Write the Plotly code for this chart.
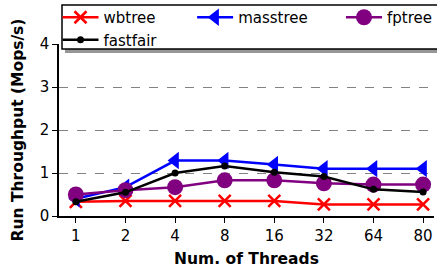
import plotly.graph_objects as go

threads = ["1", "2", "4", "8", "16", "32", "64", "80"]
wbtree = [0.33, 0.35, 0.35, 0.35, 0.35, 0.27, 0.27, 0.27]
masstree = [0.40, 0.67, 1.29, 1.29, 1.20, 1.10, 1.10, 1.10]
fptree = [0.50, 0.60, 0.67, 0.83, 0.83, 0.76, 0.73, 0.73]
fastfair = [0.33, 0.55, 1.00, 1.16, 1.02, 0.92, 0.62, 0.56]
yticks = [0, 1, 2, 3, 4]

fig = go.Figure()
fig.add_trace(go.Scatter(x=threads, y=wbtree, name="wbtree", mode="lines+markers", legend="legend",
                         line=dict(color="red", width=2.5),
                         marker=dict(symbol="x-thin", size=12, line=dict(color="red", width=2.5), color="red")))
fig.add_trace(go.Scatter(x=threads, y=masstree, name="masstree", mode="lines+markers", legend="legend2",
                         line=dict(color="blue", width=2.5),
                         marker=dict(symbol="triangle-left", size=15, color="blue")))
fig.add_trace(go.Scatter(x=threads, y=fptree, name="fptree", mode="lines+markers", legend="legend3",
                         line=dict(color="purple", width=2.5),
                         marker=dict(symbol="circle", size=16, color="purple")))
fig.add_trace(go.Scatter(x=threads, y=fastfair, name="fastfair", mode="lines+markers", legend="legend",
                         line=dict(color="black", width=2.5),
                         marker=dict(symbol="circle", size=7, color="black")))

# legend frame with shadow
fig.add_shape(type="rect", xref="paper", yref="paper", x0=0.016, x1=1.1, y0=0.948, y1=1.209,
              fillcolor="rgb(150,150,150)", line=dict(width=0), layer="above")
fig.add_shape(type="rect", xref="paper", yref="paper", x0=0.008, x1=1.1, y0=0.971, y1=1.227,
              fillcolor="white", line=dict(width=1.5, color="black"), layer="above")

leg = dict(orientation="v", yanchor="top", xanchor="left", bgcolor="rgba(0,0,0,0)",
           borderwidth=0, font=dict(size=15), tracegroupgap=0, itemwidth=36)

fig.update_layout(
    width=437, height=269,
    margin=dict(l=59, r=0, t=44, b=53),
    plot_bgcolor="white", paper_bgcolor="white",
    font=dict(family="DejaVu Sans", size=15, color="black"),
    showlegend=True,
    legend=dict(leg, x=-0.004, y=1.25),
    legend2=dict(leg, x=0.355, y=1.25),
    legend3=dict(leg, x=0.752, y=1.25),
    xaxis=dict(type="category", range=[-0.34, 7.22], showline=True, linecolor="black", linewidth=1.5,
               ticks="outside", ticklen=5, tickcolor="black", tickwidth=1.2, showgrid=False, zeroline=False,
               automargin=False, tickfont=dict(size=15),
               title=dict(text="<b>Num. of Threads</b>", font=dict(size=15.5), standoff=9)),
    yaxis=dict(range=[0, 4.0], tickvals=yticks, showline=True, linecolor="black", linewidth=1.5,
               ticks="outside", ticklen=5, tickcolor="black", tickwidth=1.2, automargin=False,
               tickfont=dict(size=15),
               showgrid=True, gridcolor="rgb(130,130,130)", griddash="dash", gridwidth=1, zeroline=False,
               title=dict(text="<b>Run Throughput (Mops/s)</b>", font=dict(size=15.5), standoff=12)),
)
fig.write_html("out.html", config={"displayModeBar": False},
               post_script="document.body.style.margin='0px';")
